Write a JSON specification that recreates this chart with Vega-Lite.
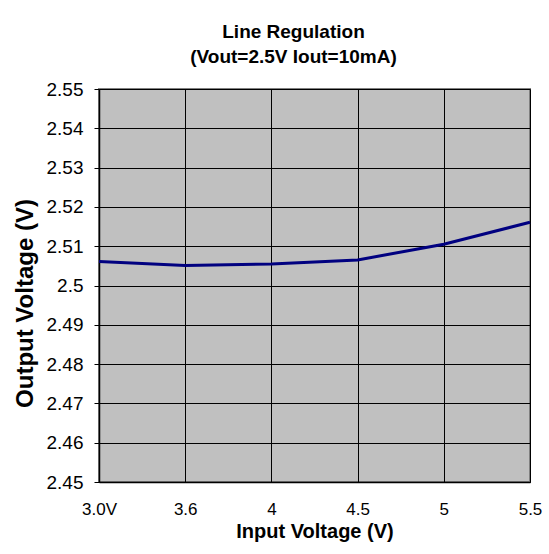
{
  "$schema": "https://vega.github.io/schema/vega-lite/v6.json",
  "autosize": {"type": "none"},
  "padding": {"left": 99, "top": 89, "right": 19, "bottom": 72},
  "width": 431,
  "height": 393,
  "background": "white",
  "title": {
    "text": ["Line Regulation", "(Vout=2.5V  Iout=10mA)"],
    "font": "Liberation Sans",
    "fontSize": 19,
    "fontWeight": "bold",
    "color": "black",
    "anchor": "middle",
    "frame": "group",
    "dx": -21,
    "offset": -2,
    "baseline": "alphabetic",
    "lineHeight": 25
  },
  "config": {
    "view": {"fill": "#C0C0C0", "stroke": "#808080", "strokeWidth": 2},
    "axis": {
      "labelFont": "Liberation Sans",
      "titleFont": "Liberation Sans",
      "labelColor": "black",
      "titleColor": "black",
      "gridColor": "black",
      "gridOpacity": 1,
      "gridWidth": 1,
      "domainColor": "black",
      "domainWidth": 1.5,
      "tickColor": "black"
    }
  },
  "data": {
    "values": [
      {"vin": "3.0V", "vout": 2.5061},
      {"vin": "3.6", "vout": 2.5051},
      {"vin": "4", "vout": 2.5055},
      {"vin": "4.5", "vout": 2.5065},
      {"vin": "5", "vout": 2.5105},
      {"vin": "5.5", "vout": 2.5161}
    ]
  },
  "mark": {"type": "line", "color": "#000080", "strokeWidth": 3},
  "encoding": {
    "x": {
      "field": "vin",
      "type": "ordinal",
      "sort": ["3.0V", "3.6", "4", "4.5", "5", "5.5"],
      "scale": {"type": "point", "padding": 0},
      "axis": {
        "title": "Input Voltage (V)",
        "labelAngle": 0,
        "labelFontSize": 17,
        "labelBaseline": "alphabetic",
        "labelPadding": 32,
        "ticks": false,
        "grid": true,
        "titleFontSize": 20,
        "titleFontWeight": "bold",
        "titleBaseline": "alphabetic",
        "titleY": 55
      }
    },
    "y": {
      "field": "vout",
      "type": "quantitative",
      "scale": {"domain": [2.45, 2.55], "zero": false, "nice": false},
      "axis": {
        "title": "Output Voltage (V)",
        "values": [2.45, 2.46, 2.47, 2.48, 2.49, 2.5, 2.51, 2.52, 2.53, 2.54, 2.55],
        "labelExpr": "format(datum.value, '.2~f')",
        "labelFontSize": 19,
        "tickSize": 5,
        "labelPadding": 11,
        "grid": true,
        "titleFontSize": 24,
        "titleFontWeight": "bold",
        "titleAngle": -90,
        "titleBaseline": "middle",
        "titleAlign": "center",
        "titleX": -74,
        "titleY": 214
      }
    }
  }
}
